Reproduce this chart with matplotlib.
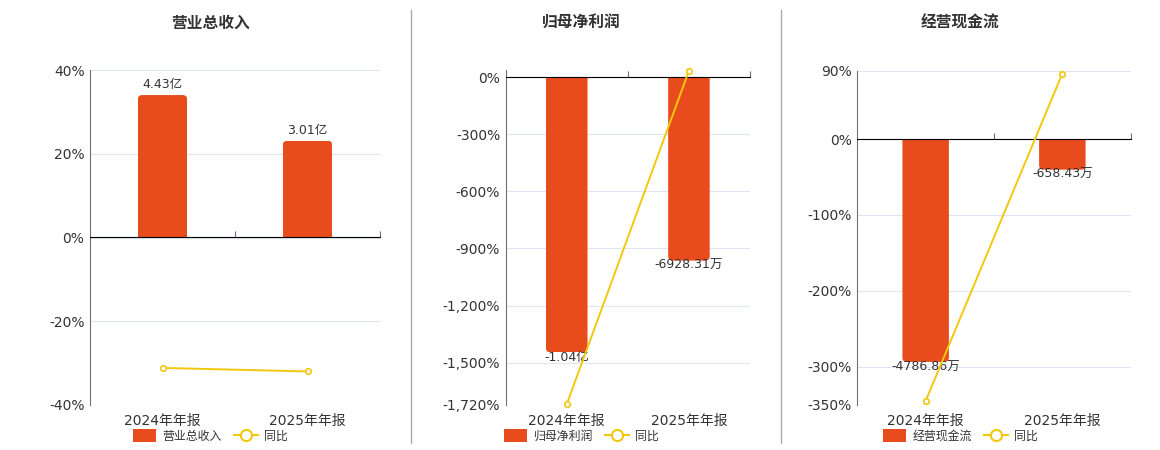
import matplotlib
matplotlib.use("Agg")
import matplotlib.pyplot as plt
from matplotlib.patches import Patch, FancyBboxPatch
from matplotlib.lines import Line2D

plt.rcParams['font.family'] = ['DejaVu Sans', 'Noto Sans CJK SC']

# ---------------- data ----------------
categories = ['2024年年报', '2025年年报']

titles = ['营业总收入', '归母净利润', '经营现金流']

revenue_values = [4.43, 3.01]            # 亿
revenue_labels = ['4.43亿', '3.01亿']
revenue_yoy = [-31.2, -32.05]            # %

profit_values = [-10400.0, -6928.31]     # 万
profit_labels = ['-1.04亿', '-6928.31万']
profit_yoy = [-1718.0, 33.4]             # %

cash_values = [-4786.86, -658.43]        # 万
cash_labels = ['-4786.86万', '-658.43万']
cash_yoy = [-345.0, 86.2]                # %

revenue_ticks = [40, 20, 0, -20, -40]
revenue_ticklabels = ['40%', '20%', '0%', '-20%', '-40%']
profit_ticks = [0, -300, -600, -900, -1200, -1500, -1720]
profit_ticklabels = ['0%', '-300%', '-600%', '-900%', '-1,200%', '-1,500%', '-1,720%']
cash_ticks = [90, 0, -100, -200, -300, -350]
cash_ticklabels = ['90%', '0%', '-100%', '-200%', '-300%', '-350%']

legend_bar_names = ['营业总收入', '归母净利润', '经营现金流']
legend_line_name = '同比'

# ---------------- style ----------------
W, H = 1160, 450
BAR_COLOR = '#E84C1D'
LINE_COLOR = '#F2C80F'
GRID_COLOR = '#E0E6F1'
AXIS_COLOR = '#6E7079'
TEXT_COLOR = '#333333'

panels = [
    dict(box=(90, 380, 70.3, 404.7), ylim=(-40, 40), blim=(-5.2, 5.2),
         vals=revenue_values, labels=revenue_labels, yoy=revenue_yoy,
         ticks=revenue_ticks, ticklabels=revenue_ticklabels,
         title=titles[0], tx=210, leg=legend_bar_names[0]),
    dict(box=(505.7, 750, 70.0, 404.5), ylim=(-1720, 38), blim=(-1720 * 7.19, 38 * 7.19),
         vals=profit_values, labels=profit_labels, yoy=profit_yoy,
         ticks=profit_ticks, ticklabels=profit_ticklabels,
         title=titles[1], tx=581, leg=legend_bar_names[1]),
    dict(box=(857.3, 1130.7, 70.7, 404.7), ylim=(-350, 90), blim=(-350 * 16.3, 90 * 16.3),
         vals=cash_values, labels=cash_labels, yoy=cash_yoy,
         ticks=cash_ticks, ticklabels=cash_ticklabels,
         title=titles[2], tx=960, leg=legend_bar_names[2]),
]

fig = plt.figure(figsize=(W / 100, H / 100), dpi=100)
x = list(range(len(categories)))


def round_bar(ax, rect, r_px, color):
    x0, w = rect.get_x(), rect.get_width()
    y_a, y_b = rect.get_y(), rect.get_y() + rect.get_height()
    lo, hi = min(y_a, y_b), max(y_a, y_b)
    p0 = ax.transData.transform((0, 0))
    p1 = ax.transData.transform((1, 1))
    sx, sy = p1[0] - p0[0], p1[1] - p0[1]
    ext = r_px / sy
    if hi > 0:
        lo -= ext
    else:
        hi += ext
    patch = FancyBboxPatch((x0, lo), w, hi - lo,
                           boxstyle=f"round,pad=0,rounding_size={r_px / sx}",
                           mutation_aspect=sx / sy, fc=color, ec='none',
                           transform=ax.transData)
    ax.add_patch(patch)
    patch.set_clip_path(rect)
    rect.set_visible(False)


for p in panels:
    l, r, t, b = p['box']
    rect = [l / W, 1 - b / H, (r - l) / W, (b - t) / H]
    ax = fig.add_axes(rect)
    ax.set_xlim(-0.5, 1.5)
    ax.set_ylim(*p['ylim'])
    ax.set_yticks(p['ticks'], p['ticklabels'])
    ax.tick_params(axis='y', length=0, pad=4, labelsize=10, labelcolor=TEXT_COLOR)
    ax.set_xticks(x, categories)
    ax.tick_params(axis='x', length=0, pad=6.5, labelsize=10, labelcolor=TEXT_COLOR)
    ax.grid(axis='y', color=GRID_COLOR, lw=0.8)
    ax.set_axisbelow(True)
    for s in ['top', 'right', 'bottom']:
        ax.spines[s].set_visible(False)
    ax.spines['left'].set_color(AXIS_COLOR)
    ax.spines['left'].set_linewidth(0.8)

    # bars on hidden twin axis
    axb = ax.twinx()
    axb.set_ylim(*p['blim'])
    axb.axis('off')
    bars = axb.bar(x, p['vals'], width=0.34, color=BAR_COLOR)
    for rct in bars:
        round_bar(axb, rct, 4.5, BAR_COLOR)
    for xi, v, lab in zip(x, p['vals'], p['labels']):
        off = 10.7 if v > 0 else -5
        axb.annotate(lab, (xi, v), xytext=(0, off), textcoords='offset pixels',
                     ha='center', va='center', fontsize=9, color=TEXT_COLOR)

    # line on top twin axis
    axl = ax.twinx()
    axl.set_ylim(*p['ylim'])
    axl.axis('off')
    axl.plot(x, p['yoy'], color=LINE_COLOR, lw=1.4, marker='o', ms=4,
             mfc='white', mec=LINE_COLOR, mew=1.2, clip_on=False, zorder=3)

    # zero axis line with ticks at category boundaries
    y0 = (0 - p['ylim'][0]) / (p['ylim'][1] - p['ylim'][0])
    sec = axl.secondary_xaxis(y0)
    sec.set_xticks([0.5, 1.5], ['', ''])
    sec.tick_params(axis='x', direction='out', length=4, width=0.8, color=AXIS_COLOR)
    sec.spines['bottom'].set_color(AXIS_COLOR)
    sec.spines['bottom'].set_linewidth(1.6)

    fig.text(p['tx'] / W, 1 - 23 / H, p['title'], ha='center', va='center',
             fontsize=11.3, fontweight='bold', color=TEXT_COLOR)

    handles = [Patch(fc=BAR_COLOR, ec='none', label=p['leg']),
               Line2D([], [], color=LINE_COLOR, lw=1.5, marker='o', ms=8,
                      mfc='white', mec=LINE_COLOR, mew=1.5, label=legend_line_name)]
    leg = fig.legend(handles=handles, loc='center', bbox_to_anchor=(p['tx'] / W, 1 - 436 / H),
                     ncol=2, frameon=False, fontsize=8.6, handlelength=2.0,
                     handleheight=1.2, handletextpad=0.5, columnspacing=1.0,
                     borderpad=0, borderaxespad=0)
    for txt in leg.get_texts():
        txt.set_color(TEXT_COLOR)

for sx in (410.5, 780.5):
    fig.add_artist(Line2D([sx / W, sx / W], [1 - 10 / H, 1 - 443 / H],
                          transform=fig.transFigure, color='#AAAAAA', lw=1))

fig.savefig('out.png', dpi=100)
